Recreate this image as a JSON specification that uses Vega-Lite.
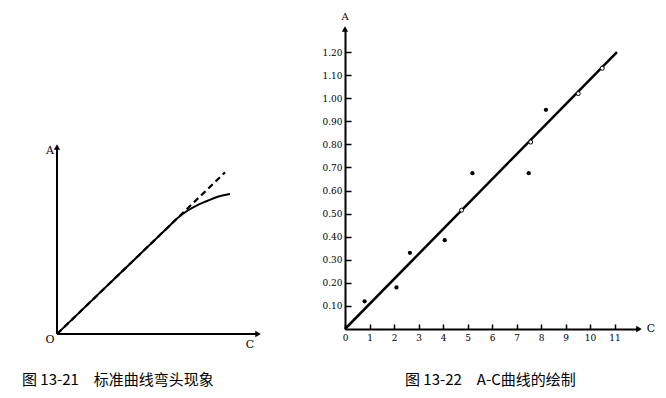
{
  "$schema": "https://vega.github.io/schema/vega-lite/v6.json",
  "padding": {"left": 22, "top": 12, "right": 5, "bottom": 5},
  "background": "white",
  "bounds": "flush",
  "spacing": 83,
  "config": {
    "view": {"stroke": null},
    "axis": {
      "domainColor": "black", "domainWidth": 2, "tickColor": "black", "tickWidth": 1.5,
      "labelColor": "black", "labelFont": "DejaVu Serif", "labelFontSize": 9, "grid": false, "title": null,
      "labelOverlap": false, "ticks": true, "labelFlush": false, "labelBound": false
    },
    "title": {"font": "Noto Sans CJK SC", "fontSize": 15, "fontWeight": "normal", "color": "black"}
  },
  "datasets": {
    "curve": [
      {"c": 0, "a": 0}, {"c": 3.0, "a": 2.885}, {"c": 5.5, "a": 5.29}, {"c": 6.0, "a": 5.77},
      {"c": 6.5, "a": 6.15}, {"c": 7.0, "a": 6.43}, {"c": 7.5, "a": 6.65}, {"c": 8.0, "a": 6.85}, {"c": 8.65, "a": 7.0}
    ],
    "dashed": [{"c": 0, "a": 0}, {"c": 8.4, "a": 8.08}],
    "fitline": [{"c": 0, "a": 0}, {"c": 11.1, "a": 1.2}],
    "measured": [
      {"c": 0.8, "a": 0.12}, {"c": 2.1, "a": 0.18}, {"c": 2.65, "a": 0.33}, {"c": 4.07, "a": 0.385},
      {"c": 5.2, "a": 0.675}, {"c": 7.5, "a": 0.675}, {"c": 8.2, "a": 0.95}
    ],
    "onLine": [
      {"c": 4.76, "a": 0.515}, {"c": 7.58, "a": 0.81}, {"c": 9.52, "a": 1.02}, {"c": 10.5, "a": 1.13}
    ]
  },
  "hconcat": [
    {
      "width": 205,
      "height": 305,
      "title": {"text": "图 13-21\u3000标准曲线弯头现象", "orient": "bottom", "anchor": "start", "frame": "group", "offset": 23, "dx": -35},
      "layer": [
        {
          "data": {"name": "dashed"},
          "mark": {"type": "line", "color": "black", "strokeWidth": 2.2, "strokeDash": [6, 4]},
          "encoding": {
            "x": {"field": "c", "type": "quantitative", "scale": {"domain": [0, 10.25], "nice": false, "zero": false}, "axis": null},
            "y": {"field": "a", "type": "quantitative", "scale": {"domain": [0, 15.25], "nice": false, "zero": false}, "axis": null}
          }
        },
        {
          "data": {"name": "curve"},
          "mark": {"type": "line", "color": "black", "strokeWidth": 2, "interpolate": "monotone"},
          "encoding": {
            "x": {"field": "c", "type": "quantitative", "axis": null},
            "y": {"field": "a", "type": "quantitative", "axis": null}
          }
        },
        {
          "data": {"values": [{}]},
          "mark": {"type": "rule", "color": "black", "strokeWidth": 2},
          "encoding": {"x": {"datum": 0, "type": "quantitative", "axis": null}, "x2": {"datum": 10.05}, "y": {"datum": 0, "type": "quantitative", "axis": null}}
        },
        {
          "data": {"values": [{}]},
          "mark": {"type": "rule", "color": "black", "strokeWidth": 2},
          "encoding": {"x": {"datum": 0, "type": "quantitative", "axis": null}, "y": {"datum": 0, "type": "quantitative", "axis": null}, "y2": {"datum": 9.35}}
        },
        {
          "data": {"values": [{}]},
          "mark": {"type": "point", "shape": "triangle-right", "filled": true, "color": "black", "size": 40, "opacity": 1},
          "encoding": {"x": {"datum": 10.05, "type": "quantitative", "axis": null}, "y": {"datum": 0, "type": "quantitative", "axis": null}}
        },
        {
          "data": {"values": [{}]},
          "mark": {"type": "point", "shape": "triangle-up", "filled": true, "color": "black", "size": 40, "opacity": 1},
          "encoding": {"x": {"datum": 0, "type": "quantitative", "axis": null}, "y": {"datum": 9.35, "type": "quantitative", "axis": null}}
        },
        {
          "data": {"values": [{}]},
          "mark": {"type": "text", "font": "DejaVu Serif", "fontSize": 11, "color": "black"},
          "encoding": {"x": {"datum": -0.35, "type": "quantitative", "axis": null}, "y": {"datum": 9.15, "type": "quantitative", "axis": null}, "text": {"value": "A"}}
        },
        {
          "data": {"values": [{}]},
          "mark": {"type": "text", "font": "DejaVu Serif", "fontSize": 11, "color": "black"},
          "encoding": {"x": {"datum": -0.35, "type": "quantitative", "axis": null}, "y": {"datum": -0.3, "type": "quantitative", "axis": null}, "text": {"value": "O"}}
        },
        {
          "data": {"values": [{}]},
          "mark": {"type": "text", "font": "DejaVu Serif", "fontSize": 11, "color": "black"},
          "encoding": {"x": {"datum": 9.65, "type": "quantitative", "axis": null}, "y": {"datum": -0.55, "type": "quantitative", "axis": null}, "text": {"value": "C"}}
        }
      ]
    },
    {
      "width": 294,
      "height": 300,
      "title": {"text": "图 13-22\u3000A-C曲线的绘制", "orient": "bottom", "anchor": "start", "frame": "group", "offset": 31, "dx": 60},
      "layer": [
        {
          "data": {"name": "fitline"},
          "mark": {"type": "line", "color": "black", "strokeWidth": 2.5},
          "encoding": {
            "x": {"field": "c", "type": "quantitative", "scale": {"domain": [0, 12], "nice": false, "zero": false},
              "axis": {"values": [0, 1, 2, 3, 4, 5, 6, 7, 8, 9, 10, 11], "tickSize": -5, "labelPadding": 9}},
            "y": {"field": "a", "type": "quantitative", "scale": {"domain": [0, 1.3], "nice": false, "zero": false},
              "axis": {"values": [0.1, 0.2, 0.3, 0.4, 0.5, 0.6, 0.7, 0.8, 0.9, 1.0, 1.1, 1.2], "format": ".2f", "tickSize": -6, "labelPadding": 9}}
          }
        },
        {
          "data": {"name": "measured"},
          "mark": {"type": "point", "shape": "circle", "filled": true, "color": "black", "size": 18, "opacity": 1},
          "encoding": {
            "x": {"field": "c", "type": "quantitative", "axis": {"values": [0, 1, 2, 3, 4, 5, 6, 7, 8, 9, 10, 11], "tickSize": -5, "labelPadding": 9}},
            "y": {"field": "a", "type": "quantitative", "axis": {"values": [0.1, 0.2, 0.3, 0.4, 0.5, 0.6, 0.7, 0.8, 0.9, 1.0, 1.1, 1.2], "format": ".2f", "tickSize": -6, "labelPadding": 9}}
          }
        },
        {
          "data": {"name": "onLine"},
          "mark": {"type": "point", "shape": "circle", "filled": false, "stroke": "black", "fill": "white", "strokeWidth": 1, "size": 16, "opacity": 1},
          "encoding": {
            "x": {"field": "c", "type": "quantitative", "axis": {"values": [0, 1, 2, 3, 4, 5, 6, 7, 8, 9, 10, 11], "tickSize": -5, "labelPadding": 9}},
            "y": {"field": "a", "type": "quantitative", "axis": {"values": [0.1, 0.2, 0.3, 0.4, 0.5, 0.6, 0.7, 0.8, 0.9, 1.0, 1.1, 1.2], "format": ".2f", "tickSize": -6, "labelPadding": 9}}
          }
        },
        {
          "data": {"values": [{}]},
          "mark": {"type": "point", "shape": "triangle-right", "filled": true, "color": "black", "size": 40, "opacity": 1},
          "encoding": {
            "x": {"datum": 12, "type": "quantitative", "axis": {"values": [0, 1, 2, 3, 4, 5, 6, 7, 8, 9, 10, 11], "tickSize": -5, "labelPadding": 9}},
            "y": {"datum": 0, "type": "quantitative", "axis": {"values": [0.1, 0.2, 0.3, 0.4, 0.5, 0.6, 0.7, 0.8, 0.9, 1.0, 1.1, 1.2], "format": ".2f", "tickSize": -6, "labelPadding": 9}}
          }
        },
        {
          "data": {"values": [{}]},
          "mark": {"type": "point", "shape": "triangle-up", "filled": true, "color": "black", "size": 40, "opacity": 1},
          "encoding": {
            "x": {"datum": 0, "type": "quantitative", "axis": {"values": [0, 1, 2, 3, 4, 5, 6, 7, 8, 9, 10, 11], "tickSize": -5, "labelPadding": 9}},
            "y": {"datum": 1.3, "type": "quantitative", "axis": {"values": [0.1, 0.2, 0.3, 0.4, 0.5, 0.6, 0.7, 0.8, 0.9, 1.0, 1.1, 1.2], "format": ".2f", "tickSize": -6, "labelPadding": 9}}
          }
        },
        {
          "data": {"values": [{}]},
          "mark": {"type": "text", "font": "DejaVu Serif", "fontSize": 10, "color": "black", "dy": -12},
          "encoding": {
            "x": {"datum": 0, "type": "quantitative", "axis": {"values": [0, 1, 2, 3, 4, 5, 6, 7, 8, 9, 10, 11], "tickSize": -5, "labelPadding": 9}},
            "y": {"datum": 1.3, "type": "quantitative", "axis": {"values": [0.1, 0.2, 0.3, 0.4, 0.5, 0.6, 0.7, 0.8, 0.9, 1.0, 1.1, 1.2], "format": ".2f", "tickSize": -6, "labelPadding": 9}},
            "text": {"value": "A"}
          }
        },
        {
          "data": {"values": [{}]},
          "mark": {"type": "text", "font": "DejaVu Serif", "fontSize": 11, "color": "black", "dx": 12},
          "encoding": {
            "x": {"datum": 12, "type": "quantitative", "axis": {"values": [0, 1, 2, 3, 4, 5, 6, 7, 8, 9, 10, 11], "tickSize": -5, "labelPadding": 9}},
            "y": {"datum": 0, "type": "quantitative", "axis": {"values": [0.1, 0.2, 0.3, 0.4, 0.5, 0.6, 0.7, 0.8, 0.9, 1.0, 1.1, 1.2], "format": ".2f", "tickSize": -6, "labelPadding": 9}},
            "text": {"value": "C"}
          }
        }
      ]
    }
  ]
}
